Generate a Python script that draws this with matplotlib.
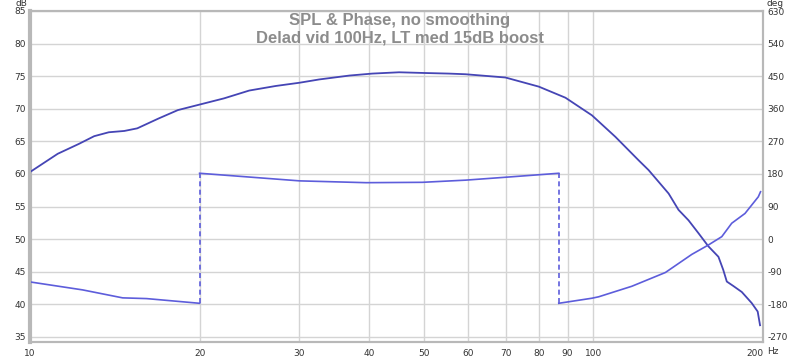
import matplotlib
matplotlib.use("Agg")
import matplotlib.pyplot as plt

plt.rcParams['axes.unicode_minus'] = False

# SPL magnitude (Hz, dB)
spl_freq = [10, 11.2, 12.2, 13.0, 13.8, 14.7, 15.5, 16.9, 18.3, 19.9, 22.1, 24.5,
            27.3, 30.1, 32.6, 36.9, 40.5, 45.2, 49.7, 55.4, 59.3, 69.8, 80.0, 89.2,
            99.4, 109.4, 120.3, 125.3, 136, 141.6, 147.5, 153.7, 160, 166.7, 170,
            172.5, 177.3, 183.4, 191, 195.7, 197.6]
spl_db = [60.3, 63.1, 64.6, 65.8, 66.4, 66.6, 67.0, 68.5, 69.8, 70.6, 71.6, 72.8,
          73.5, 74.0, 74.5, 75.1, 75.4, 75.6, 75.5, 75.4, 75.3, 74.8, 73.4, 71.7,
          69.0, 65.7, 62.1, 60.6, 57.0, 54.5, 52.9, 50.9, 48.9, 47.3, 45.3,
          43.5, 42.8, 41.9, 40.2, 38.9, 36.8]

# phase (wrapped, deg), split where it wraps
ph_freq_1 = [10, 12.4, 14.6, 16.1, 20]
ph_deg_1 = [-118, -140, -162, -164, -177]
ph_freq_2 = [20, 30.1, 39.5, 49.7, 59.3, 69.8, 86.8]
ph_deg_2 = [182, 161, 156, 157, 163, 171, 182]
ph_freq_3 = [86.8, 99.4, 102.2, 117, 134.2, 149.5, 160, 169, 176, 185.8, 196.2, 198]
ph_deg_3 = [-177, -163, -159, -130, -92, -42, -16, 7, 44, 71, 117, 131]

db_ticks = [35, 40, 45, 50, 55, 60, 65, 70, 75, 80, 85]
deg_ticks = [-270, -180, -90, 0, 90, 180, 270, 360, 450, 540, 630]
freq_ticks = [10, 20, 30, 40, 50, 60, 70, 80, 90, 100, 200]

spl_color = '#4545b5'
ph_color = '#5d5ddb'
grid_color = '#d4d4d4'
frame_color = '#b8b8b8'
label_color = '#333333'

fig = plt.figure(figsize=(8, 3.59), dpi=100)
pos = [30 / 800, 17 / 359, 733 / 800, 331 / 359]
ax = fig.add_axes(pos)
ax2 = ax.twinx()

ax.set_xscale('log')
ax.set_xlim(10, 200)
ax.set_ylim(34.23, 85)
ax2.set_ylim(-270 - 0.77 * 18, 630)

# grid
for d in db_ticks:
    ax.axhline(d, color=grid_color, lw=1, zorder=0)
for f in freq_ticks[1:-1]:
    ax.axvline(f, color=grid_color, lw=1, zorder=0)

ax.plot(spl_freq, spl_db, color=spl_color, lw=1.3, zorder=3, solid_joinstyle='round')

for fr, dg in [(ph_freq_1, ph_deg_1), (ph_freq_2, ph_deg_2), (ph_freq_3, ph_deg_3)]:
    ax2.plot(fr, dg, color=ph_color, lw=1.2, solid_joinstyle='round')
# wrap connectors
ax2.plot([ph_freq_1[-1], ph_freq_2[0]], [ph_deg_1[-1], ph_deg_2[0]],
         color=ph_color, lw=1.2, ls=(0, (3, 2)))
ax2.plot([ph_freq_2[-1], ph_freq_3[0]], [ph_deg_2[-1], ph_deg_3[0]],
         color=ph_color, lw=1.2, ls=(0, (3, 2)))

ax.set_xticks(freq_ticks)
ax.set_xticklabels([str(f) for f in freq_ticks])
ax.xaxis.set_minor_locator(matplotlib.ticker.NullLocator())
ax.set_yticks(db_ticks)
ax2.set_yticks(deg_ticks)

for a in (ax, ax2):
    a.tick_params(length=0, labelsize=6.5, labelcolor=label_color, pad=3)
    for s in a.spines.values():
        s.set_color(frame_color)
        s.set_linewidth(1.5)
ax.spines['left'].set_linewidth(3)
ax.tick_params(axis='x', pad=5)
ax.get_xticklabels()[-1].set_ha('right')

fig.text(21 / 800, 1 - 4 / 359, 'dB', fontsize=6.5, color=label_color, ha='center', va='center')
fig.text(775 / 800, 1 - 4 / 359, 'deg', fontsize=6.5, color=label_color, ha='center', va='center')
fig.text(767 / 800, 1 - 351 / 359, 'Hz', fontsize=6.5, color=label_color, ha='left', va='center')

title_kw = dict(fontsize=12, color='#8c8c8c', family='Liberation Sans',
                weight='bold', ha='center', va='center')
fig.text(0.5, 1 - 20 / 359, 'SPL & Phase, no smoothing', **title_kw)
fig.text(0.5, 1 - 38 / 359, 'Delad vid 100Hz, LT med 15dB boost', **title_kw)

fig.savefig('out.png', dpi=100)
